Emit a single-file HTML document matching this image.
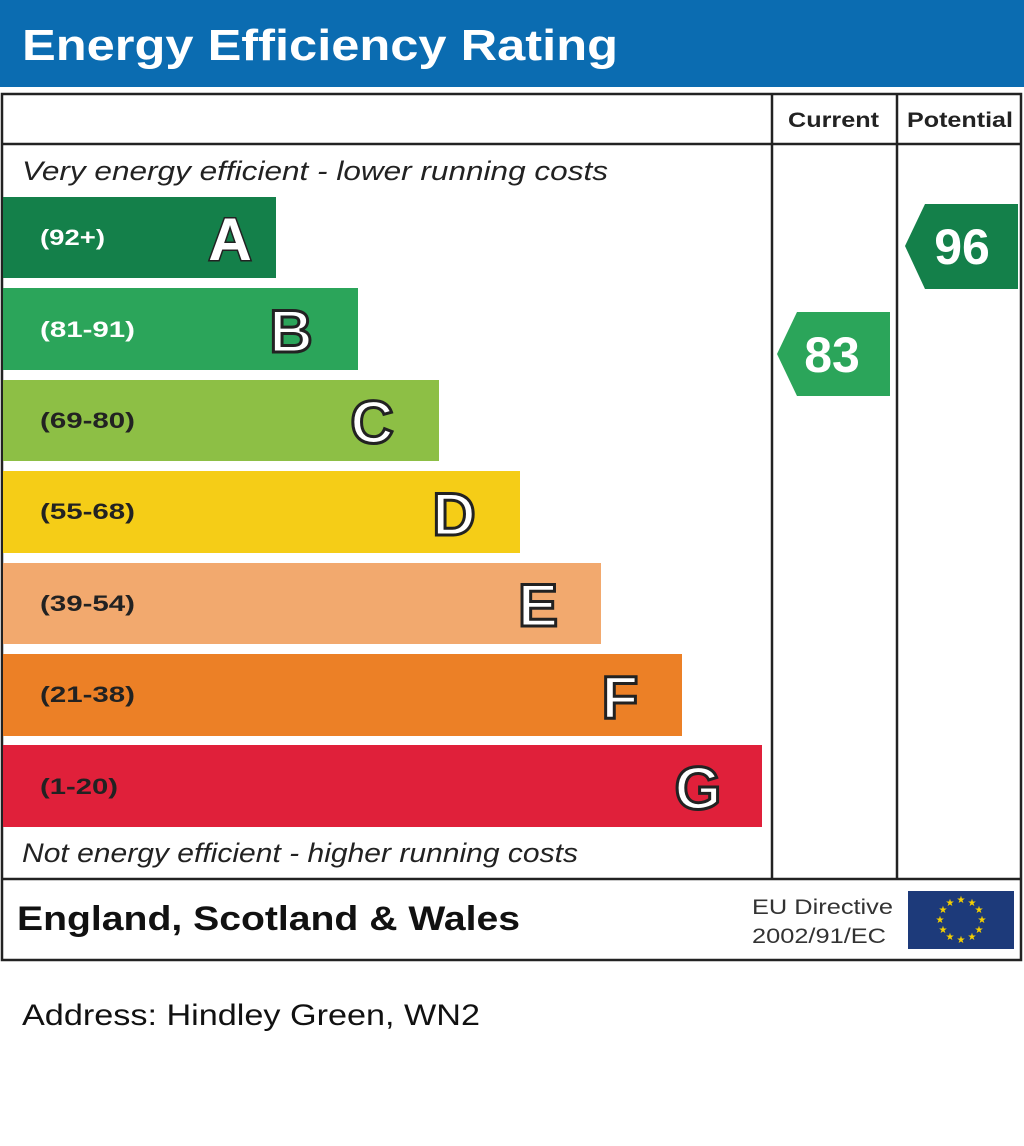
<!DOCTYPE html><html><head><style>body{margin:0;background:#fff}svg{display:block}text{font-family:"Liberation Sans",Arial,sans-serif}</style></head><body>
<svg width="1024" height="1146" viewBox="0 0 1024 1146" xmlns="http://www.w3.org/2000/svg">
<rect x="0" y="0" width="1024" height="87" fill="#0b6cb1"/>
<text x="22" y="60" font-size="44" font-weight="bold" fill="#fff" textLength="596" lengthAdjust="spacingAndGlyphs">Energy Efficiency Rating</text>
<g fill="none" stroke="#222" stroke-width="2.5">
<rect x="2" y="94" width="1019" height="866"/>
<line x1="2" y1="144" x2="1021" y2="144"/>
<line x1="772" y1="94" x2="772" y2="879"/>
<line x1="897" y1="94" x2="897" y2="879"/>
<line x1="2" y1="879" x2="1021" y2="879"/>
</g>
<text x="788" y="127" font-size="21" font-weight="bold" fill="#222" textLength="91" lengthAdjust="spacingAndGlyphs">Current</text>
<text x="907" y="127" font-size="21" font-weight="bold" fill="#222" textLength="106" lengthAdjust="spacingAndGlyphs">Potential</text>
<text x="22" y="180" font-size="27" font-style="italic" fill="#222" textLength="586" lengthAdjust="spacingAndGlyphs">Very energy efficient - lower running costs</text>
<text x="22" y="862" font-size="27" font-style="italic" fill="#222" textLength="556" lengthAdjust="spacingAndGlyphs">Not energy efficient - higher running costs</text>
<g font-weight="bold">
<rect x="3" y="197" width="273" height="81" fill="#14804a"/>
<text x="40" y="245" font-size="22" fill="#fff" textLength="65" lengthAdjust="spacingAndGlyphs">(92+)</text>
<text x="230" y="260" font-size="60" font-weight="bold" fill="#fff" stroke="#222" stroke-width="3" paint-order="stroke" text-anchor="middle">A</text>
<rect x="3" y="288" width="355" height="82" fill="#2ba55a"/>
<text x="40" y="337" font-size="22" fill="#fff" textLength="95" lengthAdjust="spacingAndGlyphs">(81-91)</text>
<text x="291" y="352" font-size="60" fill="#fff" stroke="#222" stroke-width="3" text-anchor="middle">B</text>
<rect x="3" y="380" width="436" height="81" fill="#8dbf45"/>
<text x="40" y="428" font-size="22" fill="#222" textLength="95" lengthAdjust="spacingAndGlyphs">(69-80)</text>
<text x="372" y="443" font-size="60" fill="#fff" stroke="#222" stroke-width="3" text-anchor="middle">C</text>
<rect x="3" y="471" width="517" height="82" fill="#f5cd17"/>
<text x="40" y="519" font-size="22" fill="#222" textLength="95" lengthAdjust="spacingAndGlyphs">(55-68)</text>
<text x="454" y="535" font-size="60" fill="#fff" stroke="#222" stroke-width="3" text-anchor="middle">D</text>
<rect x="3" y="563" width="598" height="81" fill="#f2a96e"/>
<text x="40" y="611" font-size="22" fill="#222" textLength="95" lengthAdjust="spacingAndGlyphs">(39-54)</text>
<text x="538" y="626" font-size="60" fill="#fff" stroke="#222" stroke-width="3" text-anchor="middle">E</text>
<rect x="3" y="654" width="679" height="82" fill="#ec8026"/>
<text x="40" y="702" font-size="22" fill="#222" textLength="95" lengthAdjust="spacingAndGlyphs">(21-38)</text>
<text x="620" y="718" font-size="60" fill="#fff" stroke="#222" stroke-width="3" text-anchor="middle">F</text>
<rect x="3" y="745" width="759" height="82" fill="#e0203a"/>
<text x="40" y="794" font-size="22" fill="#222" textLength="78" lengthAdjust="spacingAndGlyphs">(1-20)</text>
<text x="698" y="809" font-size="60" fill="#fff" stroke="#222" stroke-width="3" text-anchor="middle">G</text>
</g>
<polygon points="777,354 797,312 890,312 890,396 797,396" fill="#2ba55a"/>
<text x="832" y="372" font-size="50" font-weight="bold" fill="#fff" text-anchor="middle">83</text>
<polygon points="905,246 925,204 1018,204 1018,289 925,289" fill="#14804a"/>
<text x="962" y="264" font-size="50" font-weight="bold" fill="#fff" text-anchor="middle">96</text>
<text x="17" y="930" font-size="34" font-weight="bold" fill="#111" textLength="503" lengthAdjust="spacingAndGlyphs">England, Scotland &amp; Wales</text>
<text x="752" y="914" font-size="21" fill="#333" textLength="141" lengthAdjust="spacingAndGlyphs">EU Directive</text>
<text x="752" y="943" font-size="21" fill="#333" textLength="134" lengthAdjust="spacingAndGlyphs">2002/91/EC</text>
<rect x="908" y="891" width="106" height="58" fill="#1d3a7a"/>
<g fill="#f5d000" font-size="10" text-anchor="middle">
<text x="961" y="903">★</text><text x="972" y="906">★</text><text x="979" y="913">★</text><text x="982" y="923">★</text><text x="979" y="933">★</text><text x="972" y="940">★</text><text x="961" y="943">★</text><text x="950" y="940">★</text><text x="943" y="933">★</text><text x="940" y="923">★</text><text x="943" y="913">★</text><text x="950" y="906">★</text>
</g>
<text x="22" y="1025" font-size="30" fill="#111" textLength="458" lengthAdjust="spacingAndGlyphs">Address: Hindley Green, WN2</text>
</svg>
</body></html>
